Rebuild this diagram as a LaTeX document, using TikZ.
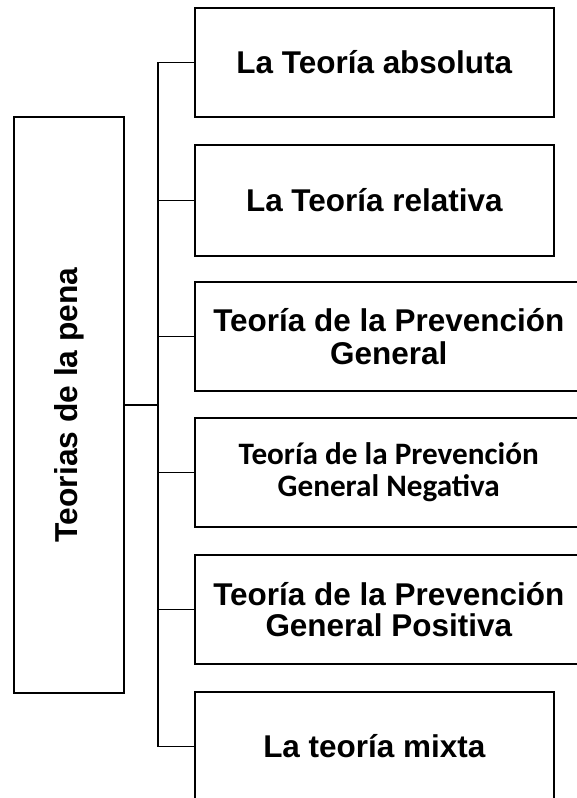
\documentclass[tikz,border=0pt]{standalone}
\usepackage{fontspec}
\setmainfont{Liberation Sans}
\newfontfamily\calfont{Carlito}
\begin{document}
\begin{tikzpicture}[x=0.75pt,y=-0.75pt,
  box/.style={draw=black,line width=1.2pt,anchor=north west,inner sep=0pt,
    align=center,font=\bfseries\fontsize{23.6}{25}\selectfont},
  conn/.style={draw=black,line width=1pt}]
\clip (0,0) rectangle (577,798);
\fill[white] (0,0) rectangle (577,798);
% main box
\node[box,minimum width=110*0.75pt,minimum height=576*0.75pt] (main) at (13,116) {};
\node[rotate=90,font=\bfseries\fontsize{23.8}{25}\selectfont] (maintxt) at (main.center) {Teorias de la pena};
% branch boxes
\node[box,minimum width=359*0.75pt,minimum height=109*0.75pt] (b1) at (194,7) {La Teoría absoluta};
\node[box,minimum width=359*0.75pt,minimum height=111*0.75pt] (b2) at (194,144) {La Teoría relativa};
\node[box,minimum width=388*0.75pt,minimum height=109*0.75pt] (b3) at (194,281) {Teoría de la Prevención\\General};
\node[box,minimum width=388*0.75pt,minimum height=109*0.75pt,font=\calfont\bfseries\fontsize{23.4}{24}\selectfont] (b4) at (194,417) {Teoría de la Prevención\\General Negativa};
\node[box,minimum width=388*0.75pt,minimum height=109*0.75pt,font=\bfseries\fontsize{23.6}{23.5}\selectfont] (b5) at (194,554) {Teoría de la Prevención\\General Positiva};
\node[box,minimum width=359*0.75pt,minimum height=109*0.75pt] (b6) at (194,691) {La teoría mixta};
% trunk
\coordinate (tk) at (158,0);
\draw[conn] (b1.west) -| (tk |- b6.west) -- (b6.west);
\draw[conn] (b2.west) -- (tk |- b2.west);
\draw[conn] (b3.west) -- (tk |- b3.west);
\draw[conn] (b4.west) -- (tk |- b4.west);
\draw[conn] (b5.west) -- (tk |- b5.west);
\draw[conn,line width=1.6pt] (tk |- b2.west) -- (tk |- b5.west);
\draw[conn,line width=1.6pt] (main.east) -- (tk |- main.east);
\end{tikzpicture}
\end{document}
